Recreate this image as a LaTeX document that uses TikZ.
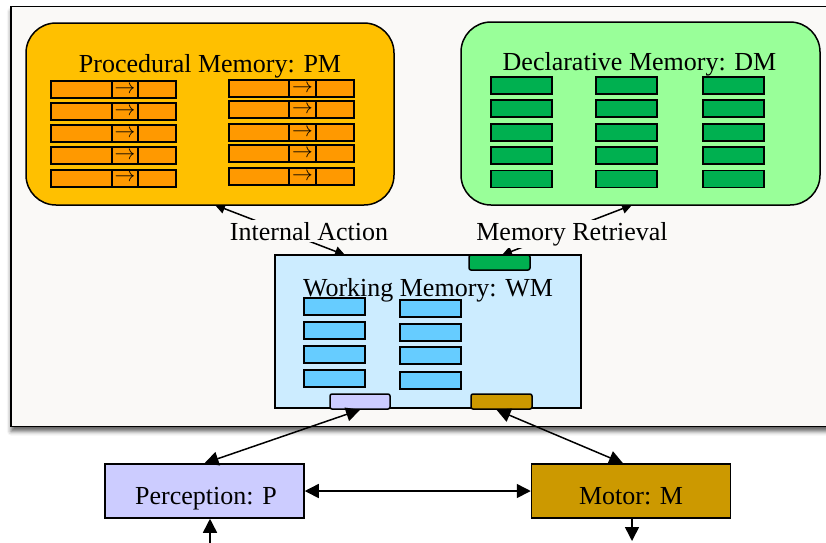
\documentclass[tikz,border=0pt]{standalone}
\usepackage{fontspec}
\setmainfont{Liberation Serif}
\usetikzlibrary{arrows.meta,shadows.blur}
\definecolor{bg}{HTML}{FAF9F7}
\definecolor{pmfill}{HTML}{FFC000}
\definecolor{pmrow}{HTML}{FF9900}
\definecolor{dmfill}{HTML}{99FF99}
\definecolor{dmrow}{HTML}{00B050}
\definecolor{wmfill}{HTML}{CCECFF}
\definecolor{wmrow}{HTML}{66CCFF}
\definecolor{percfill}{HTML}{CCCCFF}
\definecolor{motorfill}{HTML}{CC9900}
\begin{document}
\begin{tikzpicture}[x=1pt,y=-1pt,
  lbl/.style={font=\fontsize{26}{30}\selectfont, inner sep=0pt},
  bigbox/.style={draw, line width=1.5pt, rounded corners=30pt, inner sep=0pt},
  prow/.style={draw, line width=2pt, fill=pmrow, minimum height=17pt, inner sep=0pt, anchor=west, font=\fontsize{20}{20}\selectfont},
  drow/.style={draw, line width=1.5pt, fill=dmrow, minimum width=61pt, minimum height=17pt, inner sep=0pt},
  wrow/.style={draw, line width=1.5pt, fill=wmrow, minimum width=61pt, minimum height=17pt, inner sep=0pt},
  tab/.style={draw, line width=1.5pt, rounded corners=2pt, minimum width=61pt, minimum height=15pt, inner sep=0pt},
  plainbox/.style={draw, line width=1.5pt, inner sep=0pt},
  conn/.style={line width=1.5pt, {Triangle[length=14pt,width=14pt]}-{Triangle[length=14pt,width=14pt]}},
  oneway/.style={line width=1.5pt, -{Triangle[length=14pt,width=14pt]}},
  small/.style={line width=1.5pt, {Triangle[length=10pt,width=10pt]}-{Triangle[length=10pt,width=10pt]}}
]
\useasboundingbox (0,0) rectangle (826,542);
% outer frame
\node[draw, line width=1.5pt, fill=bg, minimum width=829pt, minimum height=420pt, inner sep=0pt,
  blur shadow={shadow xshift=0pt, shadow yshift=-5pt, shadow blur radius=4pt, shadow opacity=60}] (outer) at (425.5,216.5) {};

% connectors internal (drawn below labels)
\coordinate (iapm) at (215,205);
\coordinate (iawm) at (345,255);
\coordinate (mrdm) at (632,205);
\coordinate (mrwm) at (502,255);
\draw[small] (iapm) -- (iawm);
\draw[small] (mrdm) -- (mrwm);
\node[lbl, fill=bg, inner sep=2pt, anchor=base] (ialbl) at (309,240) {Internal Action};
\node[lbl, fill=bg, inner sep=2pt, anchor=base] (mrlbl) at (572,240) {Memory Retrieval};

% Procedural memory
\node[bigbox, fill=pmfill, minimum width=368pt, minimum height=182pt] (pm) at (210,114) {};
\node[lbl, anchor=base] (pmt) at (210,72) {Procedural Memory: PM};
\foreach \yy [count=\i] in {89.5,111.5,133.5,155.5,178}{
  \node[prow, minimum width=61pt] (pla\i) at (50,\yy) {};
  \node[prow, minimum width=26pt] (plb\i) at (111,\yy) {$\rightarrow$};
  \node[prow, minimum width=38pt] (plc\i) at (137,\yy) {};
}
\foreach \yy [count=\i] in {88.5,109.5,132.5,153.5,176.5}{
  \node[prow, minimum width=60pt] (pra\i) at (228,\yy) {};
  \node[prow, minimum width=27pt] (prb\i) at (288,\yy) {$\rightarrow$};
  \node[prow, minimum width=38pt] (prc\i) at (315,\yy) {};
}

% Declarative memory
\node[bigbox, fill=dmfill, minimum width=359pt, minimum height=183pt] (dm) at (640.5,113.5) {};
\node[lbl, anchor=base] (dmt) at (639.5,70) {Declarative Memory: DM};
\foreach \yy [count=\i] in {85.5,108.5,132.5,155.5,179}{
  \node[drow] (da\i) at (521.5,\yy) {};
  \node[drow] (db\i) at (626.5,\yy) {};
  \node[drow] (dc\i) at (733.5,\yy) {};
}

% Working memory
\node[plainbox, fill=wmfill, minimum width=306pt, minimum height=153pt] (wm) at (428,331.5) {};
\node[lbl, anchor=base] (wmt) at (428,296) {Working Memory: WM};
\foreach \yy [count=\i] in {306.5,330.5,354.5,378.5}{
  \node[wrow] (wa\i) at (334.5,\yy) {};
}
\foreach \yy [count=\i] in {308.5,332.5,355.5,380.5}{
  \node[wrow] (wb\i) at (430.5,\yy) {};
}
\node[tab, fill=dmrow] (gtab) at (499.5,262.5) {};
\node[tab, fill=percfill, minimum width=60pt] (ptab) at (360,401.5) {};
\node[tab, fill=motorfill] (mtab) at (501.5,401.5) {};

% Perception and motor
\node[plainbox, fill=percfill, minimum width=199pt, minimum height=54pt] (perc) at (204.5,491) {};
\node[lbl, anchor=base] (perct) at (206,504) {Perception: P};
\node[plainbox, fill=motorfill, minimum width=199pt, minimum height=54pt] (motor) at (631,491) {};
\node[lbl, anchor=base] (motort) at (631,504) {Motor: M};

\coordinate (pin) at (210,545);
\coordinate (mout) at (632,541);
\draw[conn] (ptab.south) -- (perc.north);
\draw[conn] ([xshift=-5pt]mtab.south) -- ([xshift=-8pt]motor.north);
\draw[conn] (perc.east) -- (motor.west);
\draw[oneway] (pin) -- (perc.south -| pin);
\draw[oneway] (motor.south -| mout) -- (mout);
\end{tikzpicture}
\end{document}
